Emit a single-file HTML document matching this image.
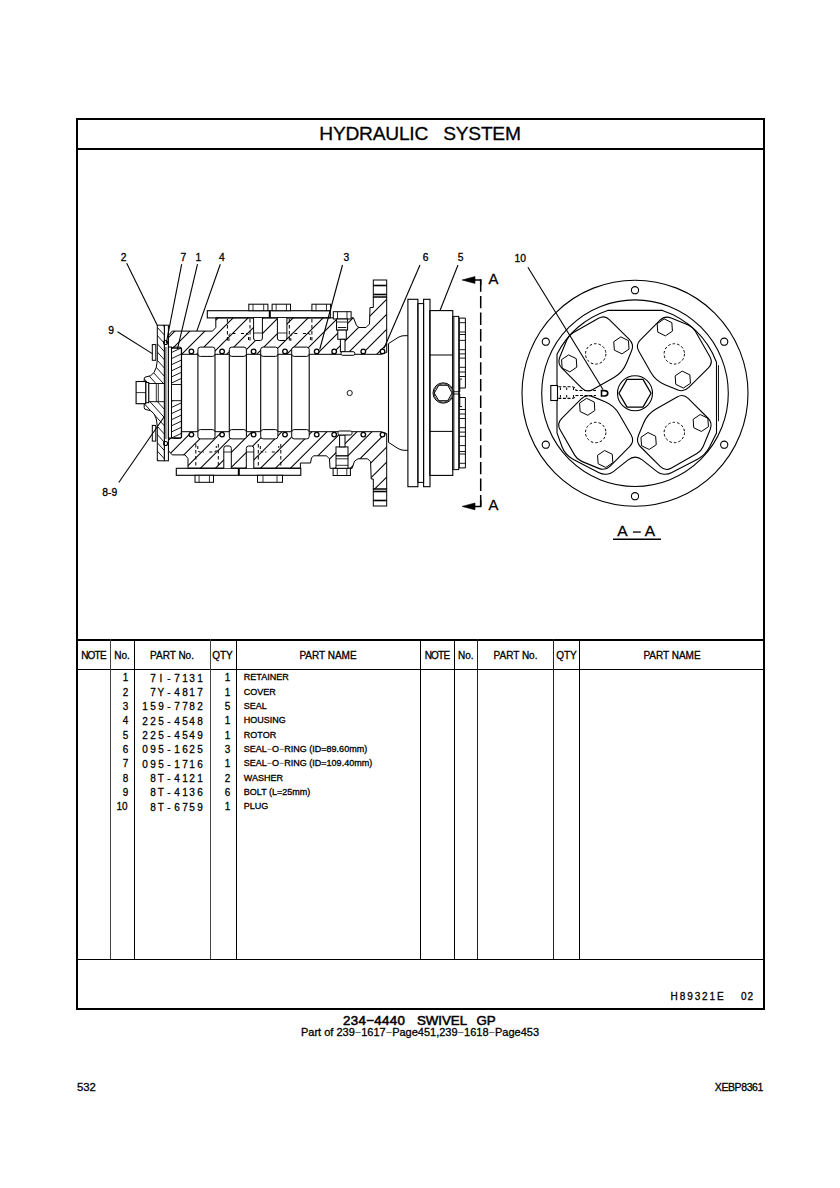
<!DOCTYPE html>
<html><head><meta charset="utf-8"><style>
html,body{margin:0;padding:0;background:#fff;}
body{width:840px;height:1188px;position:relative;overflow:hidden;}
.t{position:absolute;font-family:"Liberation Sans",sans-serif;color:#000;white-space:pre;line-height:1;-webkit-text-stroke:0.3px #000;}
.r{position:absolute;}
.d{color:#444;-webkit-text-stroke:0;}
.c{display:inline-block;width:7.9px;text-align:center;transform:scaleX(0.88);}
svg{position:absolute;left:0;top:0;}
</style></head><body>
<div class="r" style="left:76px;top:118px;width:689px;height:2px;background:#000"></div><div class="r" style="left:76px;top:1008.4px;width:689px;height:1.9px;background:#000"></div><div class="r" style="left:76px;top:118px;width:2px;height:892px;background:#000"></div><div class="r" style="left:763px;top:118px;width:2px;height:892px;background:#000"></div><div class="r" style="left:76px;top:148px;width:689px;height:1.5px;background:#000"></div><div class="r" style="left:76px;top:639px;width:689px;height:1.5px;background:#000"></div><div class="r" style="left:76px;top:668.5px;width:689px;height:1.5px;background:#000"></div><div class="r" style="left:76px;top:958.7px;width:689px;height:1.5px;background:#000"></div><div class="r" style="left:110px;top:639px;width:1.1px;height:320px;background:#444"></div><div class="r" style="left:133.5px;top:639px;width:1.1px;height:320px;background:#000"></div><div class="r" style="left:209.7px;top:639px;width:1.1px;height:320px;background:#444"></div><div class="r" style="left:235.5px;top:639px;width:1.1px;height:320px;background:#000"></div><div class="r" style="left:419.7px;top:639px;width:1.1px;height:320px;background:#000"></div><div class="r" style="left:453.5px;top:639px;width:1.1px;height:320px;background:#000"></div><div class="r" style="left:477px;top:639px;width:1.1px;height:320px;background:#222"></div><div class="r" style="left:553px;top:639px;width:1.1px;height:320px;background:#222"></div><div class="r" style="left:579.3px;top:639px;width:1.1px;height:320px;background:#000"></div><div class="t " style="left:120px;width:600px;text-align:center;top:124.14px;font-size:19.2px;letter-spacing:-0.25px">HYDRAULIC&nbsp;&nbsp;&nbsp;SYSTEM</div><div class="t " style="left:-206.5px;width:600px;text-align:center;top:650.62px;font-size:10px;letter-spacing:-0.8px">NOTE</div><div class="t " style="left:-178px;width:600px;text-align:center;top:650.62px;font-size:10px;">No.</div><div class="t " style="left:-128px;width:600px;text-align:center;top:650.62px;font-size:10px;">PART No.</div><div class="t " style="left:-77.5px;width:600px;text-align:center;top:650.62px;font-size:10px;">QTY</div><div class="t " style="left:28px;width:600px;text-align:center;top:650.62px;font-size:10px;">PART NAME</div><div class="t " style="left:137px;width:600px;text-align:center;top:650.62px;font-size:10px;letter-spacing:-0.8px">NOTE</div><div class="t " style="left:165.7px;width:600px;text-align:center;top:650.62px;font-size:10px;">No.</div><div class="t " style="left:215.5px;width:600px;text-align:center;top:650.62px;font-size:10px;">PART No.</div><div class="t " style="left:266.5px;width:600px;text-align:center;top:650.62px;font-size:10px;">QTY</div><div class="t " style="left:372px;width:600px;text-align:center;top:650.62px;font-size:10px;">PART NAME</div><div class="t " style="right:712.2px;top:672.47px;font-size:11.3px;transform:scaleX(0.88);transform-origin:right">1</div><div class="t " style="right:635.8px;top:672.66px;font-size:11.4px;"><span class="c">7</span><span class="c">I</span><span class="c">-</span><span class="c">7</span><span class="c">1</span><span class="c">3</span><span class="c">1</span></div><div class="t " style="right:609.4px;top:672.47px;font-size:11.3px;transform:scaleX(0.88);transform-origin:right">1</div><div class="t " style="left:243.8px;top:673.44px;font-size:9px;">RETAINER</div><div class="t " style="right:712.2px;top:686.80px;font-size:11.3px;transform:scaleX(0.88);transform-origin:right">2</div><div class="t " style="right:635.8px;top:686.99px;font-size:11.4px;"><span class="c">7</span><span class="c">Y</span><span class="c">-</span><span class="c">4</span><span class="c">8</span><span class="c">1</span><span class="c">7</span></div><div class="t " style="right:609.4px;top:686.80px;font-size:11.3px;transform:scaleX(0.88);transform-origin:right">1</div><div class="t " style="left:243.8px;top:687.77px;font-size:9px;">COVER</div><div class="t " style="right:712.2px;top:701.13px;font-size:11.3px;transform:scaleX(0.88);transform-origin:right">3</div><div class="t " style="right:635.8px;top:701.32px;font-size:11.4px;"><span class="c">1</span><span class="c">5</span><span class="c">9</span><span class="c">-</span><span class="c">7</span><span class="c">7</span><span class="c">8</span><span class="c">2</span></div><div class="t " style="right:609.4px;top:701.13px;font-size:11.3px;transform:scaleX(0.88);transform-origin:right">5</div><div class="t " style="left:243.8px;top:702.10px;font-size:9px;">SEAL</div><div class="t " style="right:712.2px;top:715.46px;font-size:11.3px;transform:scaleX(0.88);transform-origin:right">4</div><div class="t " style="right:635.8px;top:715.65px;font-size:11.4px;"><span class="c">2</span><span class="c">2</span><span class="c">5</span><span class="c">-</span><span class="c">4</span><span class="c">5</span><span class="c">4</span><span class="c">8</span></div><div class="t " style="right:609.4px;top:715.46px;font-size:11.3px;transform:scaleX(0.88);transform-origin:right">1</div><div class="t " style="left:243.8px;top:716.43px;font-size:9px;">HOUSING</div><div class="t " style="right:712.2px;top:729.79px;font-size:11.3px;transform:scaleX(0.88);transform-origin:right">5</div><div class="t " style="right:635.8px;top:729.98px;font-size:11.4px;"><span class="c">2</span><span class="c">2</span><span class="c">5</span><span class="c">-</span><span class="c">4</span><span class="c">5</span><span class="c">4</span><span class="c">9</span></div><div class="t " style="right:609.4px;top:729.79px;font-size:11.3px;transform:scaleX(0.88);transform-origin:right">1</div><div class="t " style="left:243.8px;top:730.76px;font-size:9px;">ROTOR</div><div class="t " style="right:712.2px;top:744.12px;font-size:11.3px;transform:scaleX(0.88);transform-origin:right">6</div><div class="t " style="right:635.8px;top:744.31px;font-size:11.4px;"><span class="c">0</span><span class="c">9</span><span class="c">5</span><span class="c">-</span><span class="c">1</span><span class="c">6</span><span class="c">2</span><span class="c">5</span></div><div class="t " style="right:609.4px;top:744.12px;font-size:11.3px;transform:scaleX(0.88);transform-origin:right">3</div><div class="t " style="left:243.8px;top:745.09px;font-size:9px;">SEAL<span class="d">−</span>O<span class="d">−</span>RING (ID=89.60mm)</div><div class="t " style="right:712.2px;top:758.45px;font-size:11.3px;transform:scaleX(0.88);transform-origin:right">7</div><div class="t " style="right:635.8px;top:758.64px;font-size:11.4px;"><span class="c">0</span><span class="c">9</span><span class="c">5</span><span class="c">-</span><span class="c">1</span><span class="c">7</span><span class="c">1</span><span class="c">6</span></div><div class="t " style="right:609.4px;top:758.45px;font-size:11.3px;transform:scaleX(0.88);transform-origin:right">1</div><div class="t " style="left:243.8px;top:759.42px;font-size:9px;">SEAL<span class="d">−</span>O<span class="d">−</span>RING (ID=109.40mm)</div><div class="t " style="right:712.2px;top:772.78px;font-size:11.3px;transform:scaleX(0.88);transform-origin:right">8</div><div class="t " style="right:635.8px;top:772.97px;font-size:11.4px;"><span class="c">8</span><span class="c">T</span><span class="c">-</span><span class="c">4</span><span class="c">1</span><span class="c">2</span><span class="c">1</span></div><div class="t " style="right:609.4px;top:772.78px;font-size:11.3px;transform:scaleX(0.88);transform-origin:right">2</div><div class="t " style="left:243.8px;top:773.75px;font-size:9px;">WASHER</div><div class="t " style="right:712.2px;top:787.11px;font-size:11.3px;transform:scaleX(0.88);transform-origin:right">9</div><div class="t " style="right:635.8px;top:787.30px;font-size:11.4px;"><span class="c">8</span><span class="c">T</span><span class="c">-</span><span class="c">4</span><span class="c">1</span><span class="c">3</span><span class="c">6</span></div><div class="t " style="right:609.4px;top:787.11px;font-size:11.3px;transform:scaleX(0.88);transform-origin:right">6</div><div class="t " style="left:243.8px;top:788.08px;font-size:9px;">BOLT (L=25mm)</div><div class="t " style="right:712.2px;top:801.44px;font-size:11.3px;transform:scaleX(0.88);transform-origin:right">10</div><div class="t " style="right:635.8px;top:801.63px;font-size:11.4px;"><span class="c">8</span><span class="c">T</span><span class="c">-</span><span class="c">6</span><span class="c">7</span><span class="c">5</span><span class="c">9</span></div><div class="t " style="right:609.4px;top:801.44px;font-size:11.3px;transform:scaleX(0.88);transform-origin:right">1</div><div class="t " style="left:243.8px;top:802.41px;font-size:9px;">PLUG</div><div class="t " style="left:670.6px;top:991.83px;font-size:10px;letter-spacing:1.9px">H89321E</div><div class="t " style="left:741px;top:991.83px;font-size:10px;letter-spacing:1px">02</div><div class="t " style="left:343.0px;top:1013.74px;font-size:13.3px;letter-spacing:0.35px;-webkit-text-stroke:0.55px #000">234−4440</div><div class="t " style="left:416.9px;top:1013.74px;font-size:13.3px;-webkit-text-stroke:0.55px #000">SWIVEL</div><div class="t " style="left:476.4px;top:1013.74px;font-size:13.3px;-webkit-text-stroke:0.55px #000">GP</div><div class="t " style="left:120px;width:600px;text-align:center;top:1026.91px;font-size:11px;">Part of 239<span style="color:#555;-webkit-text-stroke:0">−</span>1617<span style="color:#555;-webkit-text-stroke:0">−</span>Page451,239<span style="color:#555;-webkit-text-stroke:0">−</span>1618<span style="color:#555;-webkit-text-stroke:0">−</span>Page453</div><div class="t " style="left:77px;top:1081.97px;font-size:11.3px;">532</div><div class="t " style="left:714.8px;top:1082.07px;font-size:10.5px;letter-spacing:-0.4px">XEBP8361</div>
<svg width="840" height="1188" viewBox="0 0 840 1188" stroke="#000" fill="none" font-family="Liberation Sans, sans-serif"><defs><clipPath id="hT"><path d="M168.40,335.40 L172.20,331.10 L212.50,331.10 L215.80,327.50 L215.80,317.80 L353.50,317.80 L356.50,325.50 L359.00,327.50 L366.00,327.50 L369.50,324.00 L370.00,307.50 L373.30,307.50 L373.30,297.00 L386.70,297.00 L386.70,352.50 L381.00,354.30 L181.30,354.30 L181.30,348.20 L168.40,348.20 Z"/></clipPath><clipPath id="hB"><path d="M168.40,450.60 L172.20,454.90 L185.00,454.90 L188.00,458.50 L188.00,468.20 L300.40,468.20 L300.40,463.00 L310.50,463.00 L311.50,458.00 L313.50,455.80 L326.50,455.80 L329.50,458.80 L330.00,468.30 L352.10,468.30 L354.50,461.20 L358.00,458.80 L367.60,458.80 L370.60,461.80 L371.20,479.00 L373.30,479.00 L373.30,489.00 L386.70,489.00 L386.70,433.50 L381.00,431.70 L181.30,431.70 L181.30,437.80 L168.40,437.80 Z"/></clipPath><clipPath id="cv"><path d="M157.3,325.2 L164.4,325.2 L164.4,460.8 L157.3,460.8 L157.3,426 Q156.5,410 146,409.5 Q144.2,409.5 144.2,407.5 L144.2,378.9 Q144.2,376.9 146,376.9 Q156.5,376.4 157.3,360.3 Z"/></clipPath><clipPath id="rt"><path d="M173.5,347.1 L179.6,347.1 Q181.6,347.1 181.6,349.1 L181.6,436.5 Q181.6,438.5 179.6,438.5 L173.5,438.5 Q171.5,438.5 171.5,436.5 L171.5,349.1 Q171.5,347.1 173.5,347.1 Z"/></clipPath></defs><g clip-path="url(#hT)" stroke-width="1.05"><line x1="-149.00" y1="520" x2="101.00" y2="270"/><line x1="-134.00" y1="520" x2="116.00" y2="270"/><line x1="-119.00" y1="520" x2="131.00" y2="270"/><line x1="-104.00" y1="520" x2="146.00" y2="270"/><line x1="-89.00" y1="520" x2="161.00" y2="270"/><line x1="-74.00" y1="520" x2="176.00" y2="270"/><line x1="-59.00" y1="520" x2="191.00" y2="270"/><line x1="-44.00" y1="520" x2="206.00" y2="270"/><line x1="-29.00" y1="520" x2="221.00" y2="270"/><line x1="-14.00" y1="520" x2="236.00" y2="270"/><line x1="1.00" y1="520" x2="251.00" y2="270"/><line x1="16.00" y1="520" x2="266.00" y2="270"/><line x1="31.00" y1="520" x2="281.00" y2="270"/><line x1="46.00" y1="520" x2="296.00" y2="270"/><line x1="61.00" y1="520" x2="311.00" y2="270"/><line x1="76.00" y1="520" x2="326.00" y2="270"/><line x1="91.00" y1="520" x2="341.00" y2="270"/><line x1="106.00" y1="520" x2="356.00" y2="270"/><line x1="121.00" y1="520" x2="371.00" y2="270"/><line x1="136.00" y1="520" x2="386.00" y2="270"/><line x1="151.00" y1="520" x2="401.00" y2="270"/><line x1="166.00" y1="520" x2="416.00" y2="270"/><line x1="181.00" y1="520" x2="431.00" y2="270"/><line x1="196.00" y1="520" x2="446.00" y2="270"/><line x1="211.00" y1="520" x2="461.00" y2="270"/><line x1="226.00" y1="520" x2="476.00" y2="270"/><line x1="241.00" y1="520" x2="491.00" y2="270"/><line x1="256.00" y1="520" x2="506.00" y2="270"/><line x1="271.00" y1="520" x2="521.00" y2="270"/><line x1="286.00" y1="520" x2="536.00" y2="270"/><line x1="301.00" y1="520" x2="551.00" y2="270"/><line x1="316.00" y1="520" x2="566.00" y2="270"/><line x1="331.00" y1="520" x2="581.00" y2="270"/><line x1="346.00" y1="520" x2="596.00" y2="270"/><line x1="361.00" y1="520" x2="611.00" y2="270"/><line x1="376.00" y1="520" x2="626.00" y2="270"/><line x1="391.00" y1="520" x2="641.00" y2="270"/><line x1="406.00" y1="520" x2="656.00" y2="270"/><line x1="421.00" y1="520" x2="671.00" y2="270"/><line x1="436.00" y1="520" x2="686.00" y2="270"/><line x1="451.00" y1="520" x2="701.00" y2="270"/><line x1="466.00" y1="520" x2="716.00" y2="270"/><line x1="481.00" y1="520" x2="731.00" y2="270"/><line x1="496.00" y1="520" x2="746.00" y2="270"/><line x1="511.00" y1="520" x2="761.00" y2="270"/><line x1="526.00" y1="520" x2="776.00" y2="270"/><line x1="541.00" y1="520" x2="791.00" y2="270"/><line x1="556.00" y1="520" x2="806.00" y2="270"/><line x1="571.00" y1="520" x2="821.00" y2="270"/><line x1="586.00" y1="520" x2="836.00" y2="270"/><line x1="601.00" y1="520" x2="851.00" y2="270"/><line x1="616.00" y1="520" x2="866.00" y2="270"/><line x1="631.00" y1="520" x2="881.00" y2="270"/><line x1="646.00" y1="520" x2="896.00" y2="270"/><line x1="661.00" y1="520" x2="911.00" y2="270"/><line x1="676.00" y1="520" x2="926.00" y2="270"/><line x1="691.00" y1="520" x2="941.00" y2="270"/><line x1="706.00" y1="520" x2="956.00" y2="270"/><line x1="721.00" y1="520" x2="971.00" y2="270"/></g>
<path d="M168.40,335.40 L172.20,331.10 L212.50,331.10 L215.80,327.50 L215.80,317.80 L353.50,317.80 L356.50,325.50 L359.00,327.50 L366.00,327.50 L369.50,324.00 L370.00,307.50 L373.30,307.50 L373.30,297.00 L386.70,297.00 L386.70,352.50 L381.00,354.30 L181.30,354.30 L181.30,348.20 L168.40,348.20 Z" fill="none" stroke-width="1"/>
<g clip-path="url(#hB)" stroke-width="1.05"><line x1="-151.30" y1="520" x2="98.70" y2="270"/><line x1="-136.30" y1="520" x2="113.70" y2="270"/><line x1="-121.30" y1="520" x2="128.70" y2="270"/><line x1="-106.30" y1="520" x2="143.70" y2="270"/><line x1="-91.30" y1="520" x2="158.70" y2="270"/><line x1="-76.30" y1="520" x2="173.70" y2="270"/><line x1="-61.30" y1="520" x2="188.70" y2="270"/><line x1="-46.30" y1="520" x2="203.70" y2="270"/><line x1="-31.30" y1="520" x2="218.70" y2="270"/><line x1="-16.30" y1="520" x2="233.70" y2="270"/><line x1="-1.30" y1="520" x2="248.70" y2="270"/><line x1="13.70" y1="520" x2="263.70" y2="270"/><line x1="28.70" y1="520" x2="278.70" y2="270"/><line x1="43.70" y1="520" x2="293.70" y2="270"/><line x1="58.70" y1="520" x2="308.70" y2="270"/><line x1="73.70" y1="520" x2="323.70" y2="270"/><line x1="88.70" y1="520" x2="338.70" y2="270"/><line x1="103.70" y1="520" x2="353.70" y2="270"/><line x1="118.70" y1="520" x2="368.70" y2="270"/><line x1="133.70" y1="520" x2="383.70" y2="270"/><line x1="148.70" y1="520" x2="398.70" y2="270"/><line x1="163.70" y1="520" x2="413.70" y2="270"/><line x1="178.70" y1="520" x2="428.70" y2="270"/><line x1="193.70" y1="520" x2="443.70" y2="270"/><line x1="208.70" y1="520" x2="458.70" y2="270"/><line x1="223.70" y1="520" x2="473.70" y2="270"/><line x1="238.70" y1="520" x2="488.70" y2="270"/><line x1="253.70" y1="520" x2="503.70" y2="270"/><line x1="268.70" y1="520" x2="518.70" y2="270"/><line x1="283.70" y1="520" x2="533.70" y2="270"/><line x1="298.70" y1="520" x2="548.70" y2="270"/><line x1="313.70" y1="520" x2="563.70" y2="270"/><line x1="328.70" y1="520" x2="578.70" y2="270"/><line x1="343.70" y1="520" x2="593.70" y2="270"/><line x1="358.70" y1="520" x2="608.70" y2="270"/><line x1="373.70" y1="520" x2="623.70" y2="270"/><line x1="388.70" y1="520" x2="638.70" y2="270"/><line x1="403.70" y1="520" x2="653.70" y2="270"/><line x1="418.70" y1="520" x2="668.70" y2="270"/><line x1="433.70" y1="520" x2="683.70" y2="270"/><line x1="448.70" y1="520" x2="698.70" y2="270"/><line x1="463.70" y1="520" x2="713.70" y2="270"/><line x1="478.70" y1="520" x2="728.70" y2="270"/><line x1="493.70" y1="520" x2="743.70" y2="270"/><line x1="508.70" y1="520" x2="758.70" y2="270"/><line x1="523.70" y1="520" x2="773.70" y2="270"/><line x1="538.70" y1="520" x2="788.70" y2="270"/><line x1="553.70" y1="520" x2="803.70" y2="270"/><line x1="568.70" y1="520" x2="818.70" y2="270"/><line x1="583.70" y1="520" x2="833.70" y2="270"/><line x1="598.70" y1="520" x2="848.70" y2="270"/><line x1="613.70" y1="520" x2="863.70" y2="270"/><line x1="628.70" y1="520" x2="878.70" y2="270"/><line x1="643.70" y1="520" x2="893.70" y2="270"/><line x1="658.70" y1="520" x2="908.70" y2="270"/><line x1="673.70" y1="520" x2="923.70" y2="270"/><line x1="688.70" y1="520" x2="938.70" y2="270"/><line x1="703.70" y1="520" x2="953.70" y2="270"/><line x1="718.70" y1="520" x2="968.70" y2="270"/></g>
<path d="M168.40,450.60 L172.20,454.90 L185.00,454.90 L188.00,458.50 L188.00,468.20 L300.40,468.20 L300.40,463.00 L310.50,463.00 L311.50,458.00 L313.50,455.80 L326.50,455.80 L329.50,458.80 L330.00,468.30 L352.10,468.30 L354.50,461.20 L358.00,458.80 L367.60,458.80 L370.60,461.80 L371.20,479.00 L373.30,479.00 L373.30,489.00 L386.70,489.00 L386.70,433.50 L381.00,431.70 L181.30,431.70 L181.30,437.80 L168.40,437.80 Z" fill="none" stroke-width="1"/>
<rect x="373.30" y="280.00" width="13.40" height="17.00" rx="0" stroke-width="1" fill="none" />
<line x1="373.30" y1="285.50" x2="386.70" y2="285.50" stroke-width="1.6" />
<line x1="373.30" y1="294.50" x2="386.70" y2="294.50" stroke-width="1.6" />
<rect x="373.30" y="489.00" width="13.40" height="17.00" rx="0" stroke-width="1" fill="none" />
<line x1="373.30" y1="500.50" x2="386.70" y2="500.50" stroke-width="1.6" />
<line x1="373.30" y1="491.50" x2="386.70" y2="491.50" stroke-width="1.6" />
<rect x="207.30" y="310.70" width="123.00" height="7.20" rx="0" stroke-width="1.1" fill="none" />
<line x1="269.80" y1="310.70" x2="269.80" y2="317.90" stroke-width="2" />
<rect x="248.80" y="304.20" width="19.10" height="6.50" rx="0" stroke-width="1" fill="#fff" />
<line x1="253.00" y1="304.20" x2="253.00" y2="310.70" stroke-width="0.8" />
<line x1="263.70" y1="304.20" x2="263.70" y2="310.70" stroke-width="0.8" />
<rect x="272.10" y="304.20" width="18.40" height="6.50" rx="0" stroke-width="1" fill="#fff" />
<line x1="276.15" y1="304.20" x2="276.15" y2="310.70" stroke-width="0.8" />
<line x1="286.45" y1="304.20" x2="286.45" y2="310.70" stroke-width="0.8" />
<rect x="311.90" y="304.20" width="18.70" height="6.50" rx="0" stroke-width="1" fill="#fff" />
<line x1="316.01" y1="304.20" x2="316.01" y2="310.70" stroke-width="0.8" />
<line x1="326.49" y1="304.20" x2="326.49" y2="310.70" stroke-width="0.8" />
<path d="M253.6,317.9 L253.6,338 Q253.6,340.5 255.6,340.5 L260.4,340.5 Q262.4,340.5 262.4,338 L262.4,317.9" stroke-width="1" fill="#fff" />
<line x1="253.60" y1="333.00" x2="262.40" y2="333.00" stroke-width="0.8" />
<path d="M277.4,317.9 L277.4,338 Q277.4,340.5 279.4,340.5 L284.9,340.5 Q286.9,340.5 286.9,338 L286.9,317.9" stroke-width="1" fill="#fff" />
<line x1="277.40" y1="333.00" x2="286.90" y2="333.00" stroke-width="0.8" />
<rect x="176.30" y="468.30" width="124.50" height="7.00" rx="0" stroke-width="1.1" fill="none" />
<line x1="238.80" y1="468.30" x2="238.80" y2="475.30" stroke-width="2" />
<rect x="195.00" y="475.30" width="18.50" height="7.00" rx="0" stroke-width="1" fill="#fff" />
<line x1="199.07" y1="475.30" x2="199.07" y2="482.30" stroke-width="0.8" />
<line x1="209.43" y1="475.30" x2="209.43" y2="482.30" stroke-width="0.8" />
<rect x="257.50" y="475.30" width="25.00" height="7.00" rx="0" stroke-width="1" fill="#fff" />
<line x1="263.00" y1="475.30" x2="263.00" y2="482.30" stroke-width="0.8" />
<line x1="277.00" y1="475.30" x2="277.00" y2="482.30" stroke-width="0.8" />
<path d="M223.8,468.3 L223.8,448.5 Q223.8,446 225.8,446 L229.3,446 Q231.3,446 231.3,448.5 L231.3,468.3" stroke-width="1" fill="#fff" />
<line x1="223.80" y1="452.00" x2="231.30" y2="452.00" stroke-width="0.8" />
<path d="M246.3,468.3 L246.3,448.5 Q246.3,446 248.3,446 L251.8,446 Q253.8,446 253.8,448.5 L253.8,468.3" stroke-width="1" fill="#fff" />
<line x1="246.30" y1="452.00" x2="253.80" y2="452.00" stroke-width="0.8" />
<line x1="227.40" y1="319.00" x2="227.40" y2="343.00" stroke-width="1" stroke-dasharray="3.5,2.5"/>
<line x1="250.00" y1="319.00" x2="250.00" y2="343.00" stroke-width="1" stroke-dasharray="3.5,2.5"/>
<path d="M228.9,341 L228.9,336 Q228.9,333.5 231.4,333.5 L236.4,333.5" stroke-width="1" fill="none" stroke-dasharray="3,2"/>
<path d="M241,333.5 L246,333.5 Q248.5,333.5 248.5,336 L248.5,341" stroke-width="1" fill="none" stroke-dasharray="3,2"/>
<line x1="289.30" y1="319.00" x2="289.30" y2="343.00" stroke-width="1" stroke-dasharray="3.5,2.5"/>
<line x1="311.90" y1="319.00" x2="311.90" y2="343.00" stroke-width="1" stroke-dasharray="3.5,2.5"/>
<path d="M290.8,341 L290.8,336 Q290.8,333.5 293.3,333.5 L298.3,333.5" stroke-width="1" fill="none" stroke-dasharray="3,2"/>
<path d="M302.9,333.5 L307.9,333.5 Q310.4,333.5 310.4,336 L310.4,341" stroke-width="1" fill="none" stroke-dasharray="3,2"/>
<line x1="195.80" y1="444.00" x2="195.80" y2="468.00" stroke-width="1" stroke-dasharray="3.5,2.5"/>
<line x1="218.30" y1="444.00" x2="218.30" y2="468.00" stroke-width="1" stroke-dasharray="3.5,2.5"/>
<path d="M197.8,446 L197.8,450 Q197.8,452 200.3,452 L203.8,452" stroke-width="1" fill="none" stroke-dasharray="3,2"/>
<path d="M209.3,452 L213.8,452 Q216.3,452 216.3,449.5 L216.3,446" stroke-width="1" fill="none" stroke-dasharray="3,2"/>
<line x1="258.30" y1="444.00" x2="258.30" y2="468.00" stroke-width="1" stroke-dasharray="3.5,2.5"/>
<line x1="280.80" y1="444.00" x2="280.80" y2="468.00" stroke-width="1" stroke-dasharray="3.5,2.5"/>
<path d="M260.3,446 L260.3,450 Q260.3,452 262.8,452 L266.3,452" stroke-width="1" fill="none" stroke-dasharray="3,2"/>
<path d="M271.8,452 L276.3,452 Q278.8,452 278.8,449.5 L278.8,446" stroke-width="1" fill="none" stroke-dasharray="3,2"/>
<rect x="333.30" y="311.70" width="17.80" height="7.30" rx="0" stroke-width="1" fill="#fff" />
<line x1="337.50" y1="311.70" x2="337.50" y2="319.00" stroke-width="0.8" />
<line x1="347.00" y1="311.70" x2="347.00" y2="319.00" stroke-width="0.8" />
<rect x="336.50" y="319.00" width="11.10" height="11.10" rx="0" stroke-width="1" fill="#fff" />
<line x1="336.50" y1="322.00" x2="347.60" y2="322.00" stroke-width="1.2" stroke="#555"/>
<rect x="337.80" y="330.10" width="8.50" height="9.20" rx="0" stroke-width="1" fill="#fff" />
<line x1="337.80" y1="327.50" x2="346.30" y2="327.50" stroke-width="0.9" />
<rect x="340.40" y="339.30" width="4.60" height="12.40" rx="0" stroke-width="1" fill="#fff" />
<rect x="341.00" y="351.70" width="13.80" height="3.60" rx="1.5" stroke-width="1" fill="#fff" />
<rect x="333.10" y="468.30" width="17.30" height="7.20" rx="0" stroke-width="1" fill="#fff" />
<line x1="337.30" y1="468.30" x2="337.30" y2="475.50" stroke-width="0.8" />
<line x1="346.80" y1="468.30" x2="346.80" y2="475.50" stroke-width="0.8" />
<rect x="336.00" y="446.90" width="12.00" height="21.40" rx="0" stroke-width="1" fill="#fff" />
<line x1="336.00" y1="455.80" x2="348.00" y2="455.80" stroke-width="1.3" />
<line x1="336.00" y1="458.80" x2="348.00" y2="458.80" stroke-width="0.8" />
<line x1="336.00" y1="465.30" x2="348.00" y2="465.30" stroke-width="0.8" />
<rect x="339.60" y="435.00" width="5.40" height="11.90" rx="0" stroke-width="1" fill="#fff" />
<rect x="338.00" y="431.00" width="14.00" height="4.00" rx="1.5" stroke-width="1" fill="#fff" />
<g clip-path="url(#cv)" stroke-width="0.9"><line x1="-127.27" y1="270" x2="100.00" y2="520"/><line x1="-119.77" y1="270" x2="107.50" y2="520"/><line x1="-112.27" y1="270" x2="115.00" y2="520"/><line x1="-104.77" y1="270" x2="122.50" y2="520"/><line x1="-97.27" y1="270" x2="130.00" y2="520"/><line x1="-89.77" y1="270" x2="137.50" y2="520"/><line x1="-82.27" y1="270" x2="145.00" y2="520"/><line x1="-74.77" y1="270" x2="152.50" y2="520"/><line x1="-67.27" y1="270" x2="160.00" y2="520"/><line x1="-59.77" y1="270" x2="167.50" y2="520"/><line x1="-52.27" y1="270" x2="175.00" y2="520"/><line x1="-44.77" y1="270" x2="182.50" y2="520"/><line x1="-37.27" y1="270" x2="190.00" y2="520"/><line x1="-29.77" y1="270" x2="197.50" y2="520"/><line x1="-22.27" y1="270" x2="205.00" y2="520"/><line x1="-14.77" y1="270" x2="212.50" y2="520"/><line x1="-7.27" y1="270" x2="220.00" y2="520"/><line x1="0.23" y1="270" x2="227.50" y2="520"/><line x1="7.73" y1="270" x2="235.00" y2="520"/><line x1="15.23" y1="270" x2="242.50" y2="520"/><line x1="22.73" y1="270" x2="250.00" y2="520"/><line x1="30.23" y1="270" x2="257.50" y2="520"/><line x1="37.73" y1="270" x2="265.00" y2="520"/><line x1="45.23" y1="270" x2="272.50" y2="520"/><line x1="52.73" y1="270" x2="280.00" y2="520"/><line x1="60.23" y1="270" x2="287.50" y2="520"/><line x1="67.73" y1="270" x2="295.00" y2="520"/><line x1="75.23" y1="270" x2="302.50" y2="520"/><line x1="82.73" y1="270" x2="310.00" y2="520"/><line x1="90.23" y1="270" x2="317.50" y2="520"/><line x1="97.73" y1="270" x2="325.00" y2="520"/><line x1="105.23" y1="270" x2="332.50" y2="520"/><line x1="112.73" y1="270" x2="340.00" y2="520"/><line x1="120.23" y1="270" x2="347.50" y2="520"/><line x1="127.73" y1="270" x2="355.00" y2="520"/><line x1="135.23" y1="270" x2="362.50" y2="520"/><line x1="142.73" y1="270" x2="370.00" y2="520"/><line x1="150.23" y1="270" x2="377.50" y2="520"/><line x1="157.73" y1="270" x2="385.00" y2="520"/><line x1="165.23" y1="270" x2="392.50" y2="520"/><line x1="172.73" y1="270" x2="400.00" y2="520"/><line x1="180.23" y1="270" x2="407.50" y2="520"/><line x1="187.73" y1="270" x2="415.00" y2="520"/><line x1="195.23" y1="270" x2="422.50" y2="520"/><line x1="202.73" y1="270" x2="430.00" y2="520"/><line x1="210.23" y1="270" x2="437.50" y2="520"/><line x1="217.73" y1="270" x2="445.00" y2="520"/><line x1="225.23" y1="270" x2="452.50" y2="520"/><line x1="232.73" y1="270" x2="460.00" y2="520"/><line x1="240.23" y1="270" x2="467.50" y2="520"/><line x1="247.73" y1="270" x2="475.00" y2="520"/><line x1="255.23" y1="270" x2="482.50" y2="520"/><line x1="262.73" y1="270" x2="490.00" y2="520"/><line x1="270.23" y1="270" x2="497.50" y2="520"/><line x1="277.73" y1="270" x2="505.00" y2="520"/><line x1="285.23" y1="270" x2="512.50" y2="520"/><line x1="292.73" y1="270" x2="520.00" y2="520"/><line x1="300.23" y1="270" x2="527.50" y2="520"/><line x1="307.73" y1="270" x2="535.00" y2="520"/><line x1="315.23" y1="270" x2="542.50" y2="520"/><line x1="322.73" y1="270" x2="550.00" y2="520"/><line x1="330.23" y1="270" x2="557.50" y2="520"/><line x1="337.73" y1="270" x2="565.00" y2="520"/><line x1="345.23" y1="270" x2="572.50" y2="520"/><line x1="352.73" y1="270" x2="580.00" y2="520"/><line x1="360.23" y1="270" x2="587.50" y2="520"/><line x1="367.73" y1="270" x2="595.00" y2="520"/><line x1="375.23" y1="270" x2="602.50" y2="520"/><line x1="382.73" y1="270" x2="610.00" y2="520"/><line x1="390.23" y1="270" x2="617.50" y2="520"/><line x1="397.73" y1="270" x2="625.00" y2="520"/><line x1="405.23" y1="270" x2="632.50" y2="520"/><line x1="412.73" y1="270" x2="640.00" y2="520"/><line x1="420.23" y1="270" x2="647.50" y2="520"/><line x1="427.73" y1="270" x2="655.00" y2="520"/><line x1="435.23" y1="270" x2="662.50" y2="520"/><line x1="442.73" y1="270" x2="670.00" y2="520"/><line x1="450.23" y1="270" x2="677.50" y2="520"/><line x1="457.73" y1="270" x2="685.00" y2="520"/><line x1="465.23" y1="270" x2="692.50" y2="520"/><line x1="472.73" y1="270" x2="700.00" y2="520"/><line x1="480.23" y1="270" x2="707.50" y2="520"/><line x1="487.73" y1="270" x2="715.00" y2="520"/><line x1="495.23" y1="270" x2="722.50" y2="520"/><line x1="502.73" y1="270" x2="730.00" y2="520"/><line x1="510.23" y1="270" x2="737.50" y2="520"/><line x1="517.73" y1="270" x2="745.00" y2="520"/><line x1="525.23" y1="270" x2="752.50" y2="520"/><line x1="532.73" y1="270" x2="760.00" y2="520"/><line x1="540.23" y1="270" x2="767.50" y2="520"/><line x1="547.73" y1="270" x2="775.00" y2="520"/><line x1="555.23" y1="270" x2="782.50" y2="520"/><line x1="562.73" y1="270" x2="790.00" y2="520"/><line x1="570.23" y1="270" x2="797.50" y2="520"/><line x1="577.73" y1="270" x2="805.00" y2="520"/><line x1="585.23" y1="270" x2="812.50" y2="520"/><line x1="592.73" y1="270" x2="820.00" y2="520"/><line x1="600.23" y1="270" x2="827.50" y2="520"/><line x1="607.73" y1="270" x2="835.00" y2="520"/><line x1="615.23" y1="270" x2="842.50" y2="520"/><line x1="622.73" y1="270" x2="850.00" y2="520"/><line x1="630.23" y1="270" x2="857.50" y2="520"/><line x1="637.73" y1="270" x2="865.00" y2="520"/><line x1="645.23" y1="270" x2="872.50" y2="520"/><line x1="652.73" y1="270" x2="880.00" y2="520"/><line x1="660.23" y1="270" x2="887.50" y2="520"/><line x1="667.73" y1="270" x2="895.00" y2="520"/><line x1="675.23" y1="270" x2="902.50" y2="520"/><line x1="682.73" y1="270" x2="910.00" y2="520"/><line x1="690.23" y1="270" x2="917.50" y2="520"/><line x1="697.73" y1="270" x2="925.00" y2="520"/><line x1="705.23" y1="270" x2="932.50" y2="520"/></g>
<path d="M157.3,325.2 L164.4,325.2 L164.4,460.8 L157.3,460.8 L157.3,426 Q156.5,410 146,409.5 Q144.2,409.5 144.2,407.5 L144.2,378.9 Q144.2,376.9 146,376.9 Q156.5,376.4 157.3,360.3 Z" fill="none" stroke-width="1"/>
<rect x="148.70" y="383.50" width="15.70" height="18.20" rx="0" stroke-width="0.9" fill="#fff" />
<line x1="156.30" y1="383.50" x2="156.30" y2="401.70" stroke-width="0.8" />
<line x1="158.30" y1="383.50" x2="158.30" y2="401.70" stroke-width="0.8" />
<rect x="164.40" y="325.20" width="4.00" height="135.60" rx="0" stroke-width="1" fill="#fff" />
<rect x="168.40" y="347.00" width="3.10" height="91.00" rx="0" stroke-width="1" fill="#fff" />
<line x1="165.90" y1="347.00" x2="165.90" y2="439.00" stroke-width="0.8" />
<rect x="152.30" y="344.60" width="3.50" height="15.70" rx="0" stroke-width="1" fill="#fff" />
<rect x="152.30" y="425.40" width="3.50" height="15.70" rx="0" stroke-width="1" fill="#fff" />
<rect x="145.70" y="382.50" width="3.00" height="20.20" rx="0" stroke-width="1" fill="#fff" />
<rect x="136.10" y="381.50" width="9.60" height="22.20" rx="0" stroke-width="1.1" fill="#fff" />
<line x1="136.10" y1="392.60" x2="145.70" y2="392.60" stroke-width="0.8" />
<g clip-path="url(#rt)" stroke-width="0.9"><line x1="-431.91" y1="520" x2="100.00" y2="270"/><line x1="-418.91" y1="520" x2="113.00" y2="270"/><line x1="-405.91" y1="520" x2="126.00" y2="270"/><line x1="-392.91" y1="520" x2="139.00" y2="270"/><line x1="-379.91" y1="520" x2="152.00" y2="270"/><line x1="-366.91" y1="520" x2="165.00" y2="270"/><line x1="-353.91" y1="520" x2="178.00" y2="270"/><line x1="-340.91" y1="520" x2="191.00" y2="270"/><line x1="-327.91" y1="520" x2="204.00" y2="270"/><line x1="-314.91" y1="520" x2="217.00" y2="270"/><line x1="-301.91" y1="520" x2="230.00" y2="270"/><line x1="-288.91" y1="520" x2="243.00" y2="270"/><line x1="-275.91" y1="520" x2="256.00" y2="270"/><line x1="-262.91" y1="520" x2="269.00" y2="270"/><line x1="-249.91" y1="520" x2="282.00" y2="270"/><line x1="-236.91" y1="520" x2="295.00" y2="270"/><line x1="-223.91" y1="520" x2="308.00" y2="270"/><line x1="-210.91" y1="520" x2="321.00" y2="270"/><line x1="-197.91" y1="520" x2="334.00" y2="270"/><line x1="-184.91" y1="520" x2="347.00" y2="270"/><line x1="-171.91" y1="520" x2="360.00" y2="270"/><line x1="-158.91" y1="520" x2="373.00" y2="270"/><line x1="-145.91" y1="520" x2="386.00" y2="270"/><line x1="-132.91" y1="520" x2="399.00" y2="270"/><line x1="-119.91" y1="520" x2="412.00" y2="270"/><line x1="-106.91" y1="520" x2="425.00" y2="270"/><line x1="-93.91" y1="520" x2="438.00" y2="270"/><line x1="-80.91" y1="520" x2="451.00" y2="270"/><line x1="-67.91" y1="520" x2="464.00" y2="270"/><line x1="-54.91" y1="520" x2="477.00" y2="270"/><line x1="-41.91" y1="520" x2="490.00" y2="270"/><line x1="-28.91" y1="520" x2="503.00" y2="270"/><line x1="-15.91" y1="520" x2="516.00" y2="270"/><line x1="-2.91" y1="520" x2="529.00" y2="270"/><line x1="10.09" y1="520" x2="542.00" y2="270"/><line x1="23.09" y1="520" x2="555.00" y2="270"/><line x1="36.09" y1="520" x2="568.00" y2="270"/><line x1="49.09" y1="520" x2="581.00" y2="270"/><line x1="62.09" y1="520" x2="594.00" y2="270"/><line x1="75.09" y1="520" x2="607.00" y2="270"/><line x1="88.09" y1="520" x2="620.00" y2="270"/><line x1="101.09" y1="520" x2="633.00" y2="270"/><line x1="114.09" y1="520" x2="646.00" y2="270"/><line x1="127.09" y1="520" x2="659.00" y2="270"/><line x1="140.09" y1="520" x2="672.00" y2="270"/><line x1="153.09" y1="520" x2="685.00" y2="270"/><line x1="166.09" y1="520" x2="698.00" y2="270"/><line x1="179.09" y1="520" x2="711.00" y2="270"/><line x1="192.09" y1="520" x2="724.00" y2="270"/><line x1="205.09" y1="520" x2="737.00" y2="270"/><line x1="218.09" y1="520" x2="750.00" y2="270"/><line x1="231.09" y1="520" x2="763.00" y2="270"/><line x1="244.09" y1="520" x2="776.00" y2="270"/><line x1="257.09" y1="520" x2="789.00" y2="270"/><line x1="270.09" y1="520" x2="802.00" y2="270"/><line x1="283.09" y1="520" x2="815.00" y2="270"/><line x1="296.09" y1="520" x2="828.00" y2="270"/><line x1="309.09" y1="520" x2="841.00" y2="270"/><line x1="322.09" y1="520" x2="854.00" y2="270"/><line x1="335.09" y1="520" x2="867.00" y2="270"/><line x1="348.09" y1="520" x2="880.00" y2="270"/><line x1="361.09" y1="520" x2="893.00" y2="270"/><line x1="374.09" y1="520" x2="906.00" y2="270"/><line x1="387.09" y1="520" x2="919.00" y2="270"/><line x1="400.09" y1="520" x2="932.00" y2="270"/><line x1="413.09" y1="520" x2="945.00" y2="270"/><line x1="426.09" y1="520" x2="958.00" y2="270"/><line x1="439.09" y1="520" x2="971.00" y2="270"/><line x1="452.09" y1="520" x2="984.00" y2="270"/><line x1="465.09" y1="520" x2="997.00" y2="270"/><line x1="478.09" y1="520" x2="1010.00" y2="270"/><line x1="491.09" y1="520" x2="1023.00" y2="270"/><line x1="504.09" y1="520" x2="1036.00" y2="270"/><line x1="517.09" y1="520" x2="1049.00" y2="270"/><line x1="530.09" y1="520" x2="1062.00" y2="270"/><line x1="543.09" y1="520" x2="1075.00" y2="270"/><line x1="556.09" y1="520" x2="1088.00" y2="270"/><line x1="569.09" y1="520" x2="1101.00" y2="270"/><line x1="582.09" y1="520" x2="1114.00" y2="270"/><line x1="595.09" y1="520" x2="1127.00" y2="270"/><line x1="608.09" y1="520" x2="1140.00" y2="270"/><line x1="621.09" y1="520" x2="1153.00" y2="270"/><line x1="634.09" y1="520" x2="1166.00" y2="270"/><line x1="647.09" y1="520" x2="1179.00" y2="270"/><line x1="660.09" y1="520" x2="1192.00" y2="270"/><line x1="673.09" y1="520" x2="1205.00" y2="270"/><line x1="686.09" y1="520" x2="1218.00" y2="270"/><line x1="699.09" y1="520" x2="1231.00" y2="270"/><line x1="712.09" y1="520" x2="1244.00" y2="270"/><line x1="725.09" y1="520" x2="1257.00" y2="270"/><line x1="738.09" y1="520" x2="1270.00" y2="270"/><line x1="751.09" y1="520" x2="1283.00" y2="270"/><line x1="764.09" y1="520" x2="1296.00" y2="270"/><line x1="777.09" y1="520" x2="1309.00" y2="270"/><line x1="790.09" y1="520" x2="1322.00" y2="270"/><line x1="803.09" y1="520" x2="1335.00" y2="270"/><line x1="816.09" y1="520" x2="1348.00" y2="270"/><line x1="829.09" y1="520" x2="1361.00" y2="270"/><line x1="842.09" y1="520" x2="1374.00" y2="270"/><line x1="855.09" y1="520" x2="1387.00" y2="270"/><line x1="868.09" y1="520" x2="1400.00" y2="270"/><line x1="881.09" y1="520" x2="1413.00" y2="270"/><line x1="894.09" y1="520" x2="1426.00" y2="270"/><line x1="907.09" y1="520" x2="1439.00" y2="270"/><line x1="920.09" y1="520" x2="1452.00" y2="270"/><line x1="933.09" y1="520" x2="1465.00" y2="270"/><line x1="946.09" y1="520" x2="1478.00" y2="270"/><line x1="959.09" y1="520" x2="1491.00" y2="270"/><line x1="972.09" y1="520" x2="1504.00" y2="270"/><line x1="985.09" y1="520" x2="1517.00" y2="270"/><line x1="998.09" y1="520" x2="1530.00" y2="270"/><line x1="1011.09" y1="520" x2="1543.00" y2="270"/></g>
<path d="M173.5,347.1 L179.6,347.1 Q181.6,347.1 181.6,349.1 L181.6,436.5 Q181.6,438.5 179.6,438.5 L173.5,438.5 Q171.5,438.5 171.5,436.5 L171.5,349.1 Q171.5,347.1 173.5,347.1 Z" fill="none" stroke-width="1"/>
<rect x="171.50" y="384.50" width="10.10" height="16.20" rx="0" stroke-width="0.9" fill="#fff" />
<circle cx="165.60" cy="342.50" r="2.00" stroke-width="1.1" fill="none" />
<circle cx="165.60" cy="443.50" r="2.00" stroke-width="1.1" fill="none" />
<line x1="181.40" y1="354.30" x2="181.40" y2="431.70" stroke-width="1.1" />
<line x1="197.90" y1="354.30" x2="197.90" y2="431.70" stroke-width="1.1" />
<line x1="215.00" y1="354.30" x2="215.00" y2="431.70" stroke-width="1.1" />
<line x1="229.30" y1="354.30" x2="229.30" y2="431.70" stroke-width="1.1" />
<line x1="246.40" y1="354.30" x2="246.40" y2="431.70" stroke-width="1.1" />
<line x1="260.70" y1="354.30" x2="260.70" y2="431.70" stroke-width="1.1" />
<line x1="277.90" y1="354.30" x2="277.90" y2="431.70" stroke-width="1.1" />
<line x1="291.70" y1="354.30" x2="291.70" y2="431.70" stroke-width="1.1" />
<line x1="309.20" y1="354.30" x2="309.20" y2="431.70" stroke-width="1.1" />
<rect x="197.90" y="347.10" width="17.10" height="9.30" rx="2.5" stroke-width="1" fill="#fff" />
<rect x="197.90" y="429.60" width="17.10" height="9.30" rx="2.5" stroke-width="1" fill="#fff" />
<rect x="229.30" y="347.10" width="17.10" height="9.30" rx="2.5" stroke-width="1" fill="#fff" />
<rect x="229.30" y="429.60" width="17.10" height="9.30" rx="2.5" stroke-width="1" fill="#fff" />
<rect x="260.70" y="347.10" width="17.20" height="9.30" rx="2.5" stroke-width="1" fill="#fff" />
<rect x="260.70" y="429.60" width="17.20" height="9.30" rx="2.5" stroke-width="1" fill="#fff" />
<rect x="291.70" y="347.10" width="17.50" height="9.30" rx="2.5" stroke-width="1" fill="#fff" />
<rect x="291.70" y="429.60" width="17.50" height="9.30" rx="2.5" stroke-width="1" fill="#fff" />
<line x1="388.50" y1="343.60" x2="388.50" y2="442.40" stroke-width="1.1" />
<circle cx="349.70" cy="393.00" r="2.60" stroke-width="0.9" fill="none" />
<circle cx="191.40" cy="351.40" r="2.3" stroke-width="1.3" fill="#fff"/>
<circle cx="191.40" cy="434.60" r="2.3" stroke-width="1.3" fill="#fff"/>
<circle cx="222.10" cy="351.40" r="2.3" stroke-width="1.3" fill="#fff"/>
<circle cx="222.10" cy="434.60" r="2.3" stroke-width="1.3" fill="#fff"/>
<circle cx="253.60" cy="351.40" r="2.3" stroke-width="1.3" fill="#fff"/>
<circle cx="253.60" cy="434.60" r="2.3" stroke-width="1.3" fill="#fff"/>
<circle cx="285.00" cy="351.40" r="2.3" stroke-width="1.3" fill="#fff"/>
<circle cx="285.00" cy="434.60" r="2.3" stroke-width="1.3" fill="#fff"/>
<circle cx="316.70" cy="351.40" r="2.3" stroke-width="1.3" fill="#fff"/>
<circle cx="316.70" cy="434.60" r="2.3" stroke-width="1.3" fill="#fff"/>
<circle cx="334.20" cy="351.40" r="2.3" stroke-width="1.3" fill="#fff"/>
<circle cx="334.20" cy="434.60" r="2.3" stroke-width="1.3" fill="#fff"/>
<circle cx="363.30" cy="351.40" r="2.3" stroke-width="1.3" fill="#fff"/>
<circle cx="363.30" cy="434.60" r="2.3" stroke-width="1.3" fill="#fff"/>
<circle cx="382.50" cy="351.40" r="2.3" stroke-width="1.3" fill="#fff"/>
<circle cx="382.50" cy="434.60" r="2.3" stroke-width="1.3" fill="#fff"/>
<path d="M388.5,343.6 L398,337.5 Q401,335.7 404,335.7 L407.9,335.7" stroke-width="1" fill="none" />
<path d="M388.5,442.4 L398,448.5 Q401,450.3 404,450.3 L407.9,450.3" stroke-width="1" fill="none" />
<rect x="407.90" y="299.30" width="10.00" height="187.40" rx="0" stroke-width="1.1" fill="none" />
<rect x="417.90" y="303.60" width="5.70" height="178.80" rx="0" stroke-width="1" fill="none" />
<rect x="423.60" y="299.30" width="6.40" height="187.40" rx="0" stroke-width="1.1" fill="none" />
<rect x="429.80" y="310.60" width="23.00" height="164.80" rx="0" stroke-width="1.1" fill="none" />
<line x1="429.80" y1="355.00" x2="452.80" y2="355.00" stroke-width="1" />
<line x1="429.80" y1="431.40" x2="452.80" y2="431.40" stroke-width="1" />
<rect x="452.80" y="316.40" width="5.90" height="153.20" rx="0" stroke-width="1" fill="none" />
<line x1="453.80" y1="316.40" x2="453.80" y2="469.60" stroke-width="1.3" stroke="#444"/>
<path d="M458.7,318.1 L465.4,318.1 L465.4,388 L459.5,388 M459.5,397.5 L465.4,397.5 L465.4,467.9 L458.7,467.9" stroke-width="1" fill="none" />
<line x1="459.50" y1="322.70" x2="465.40" y2="322.70" stroke-width="0.9" />
<line x1="459.50" y1="332.00" x2="465.40" y2="332.00" stroke-width="0.9" />
<line x1="459.50" y1="334.50" x2="465.40" y2="334.50" stroke-width="0.9" />
<line x1="459.50" y1="340.40" x2="465.40" y2="340.40" stroke-width="0.9" />
<line x1="459.50" y1="349.70" x2="465.40" y2="349.70" stroke-width="0.9" />
<line x1="459.50" y1="353.90" x2="465.40" y2="353.90" stroke-width="0.9" />
<line x1="459.50" y1="358.10" x2="465.40" y2="358.10" stroke-width="0.9" />
<line x1="459.50" y1="367.30" x2="465.40" y2="367.30" stroke-width="0.9" />
<line x1="459.50" y1="372.00" x2="465.40" y2="372.00" stroke-width="0.9" />
<line x1="459.50" y1="376.50" x2="465.40" y2="376.50" stroke-width="0.9" />
<line x1="459.50" y1="409.50" x2="465.40" y2="409.50" stroke-width="0.9" />
<line x1="459.50" y1="414.00" x2="465.40" y2="414.00" stroke-width="0.9" />
<line x1="459.50" y1="418.50" x2="465.40" y2="418.50" stroke-width="0.9" />
<line x1="459.50" y1="427.70" x2="465.40" y2="427.70" stroke-width="0.9" />
<line x1="459.50" y1="432.10" x2="465.40" y2="432.10" stroke-width="0.9" />
<line x1="459.50" y1="436.30" x2="465.40" y2="436.30" stroke-width="0.9" />
<line x1="459.50" y1="445.60" x2="465.40" y2="445.60" stroke-width="0.9" />
<line x1="459.50" y1="451.50" x2="465.40" y2="451.50" stroke-width="0.9" />
<line x1="459.50" y1="454.00" x2="465.40" y2="454.00" stroke-width="0.9" />
<line x1="459.50" y1="463.30" x2="465.40" y2="463.30" stroke-width="0.9" />
<line x1="459.50" y1="318.10" x2="459.50" y2="467.90" stroke-width="0.8" />
<circle cx="443.20" cy="393.00" r="10.20" stroke-width="1.0" fill="#fff" />
<circle cx="443.20" cy="393.00" r="9.20" stroke-width="0.8" fill="none" />
<path d="M452.10,393.00 L447.65,400.71 L438.75,400.71 L434.30,393.00 L438.75,385.29 L447.65,385.29 Z" stroke-width="1.0" fill="none" />
<path d="M452.5,391.7 L459.8,391.7 L459.8,379 L462,379 M452.5,394 L459.8,394 L459.8,406.6 L462,406.6" stroke-width="0.9" fill="none" />
<line x1="480.70" y1="279.30" x2="480.70" y2="506.40" stroke-width="1.5" stroke-dasharray="12.4,4.2"/>
<path d="M470,280 L480.7,280 L480.7,285" stroke-width="1.5" fill="none" />
<path d="M470,506.4 L480.7,506.4 L480.7,500" stroke-width="1.5" fill="none" />
<path d="M462.10,280.00 L475.00,276.60 L475.00,283.40 Z" stroke-width="0.6" fill="#000" />
<path d="M462.10,506.40 L475.00,503.00 L475.00,509.80 Z" stroke-width="0.6" fill="#000" />
<line x1="126.70" y1="263.30" x2="157.50" y2="325.80" stroke-width="1.1" />
<line x1="181.70" y1="264.20" x2="166.30" y2="343.00" stroke-width="1.1" />
<line x1="197.50" y1="264.20" x2="177.50" y2="348.80" stroke-width="1.1" />
<line x1="220.30" y1="264.20" x2="196.80" y2="331.10" stroke-width="1.1" />
<line x1="117.50" y1="331.70" x2="152.30" y2="353.60" stroke-width="1.1" />
<line x1="118.75" y1="482.50" x2="164.20" y2="416.70" stroke-width="1.1" />
<line x1="342.50" y1="265.00" x2="319.70" y2="349.50" stroke-width="1.1" />
<line x1="420.00" y1="265.00" x2="384.00" y2="348.20" stroke-width="1.1" />
<line x1="458.00" y1="265.00" x2="440.00" y2="310.50" stroke-width="1.1" />
<line x1="527.90" y1="267.20" x2="603.00" y2="389.50" stroke-width="1.1" />
<circle cx="635.00" cy="393.20" r="113.00" stroke-width="1.1" fill="none" />
<circle cx="635.00" cy="393.20" r="93.30" stroke-width="1.1" fill="none" />
<circle cx="635.00" cy="290.20" r="3.60" stroke-width="1.1" fill="none" />
<circle cx="724.20" cy="341.70" r="3.60" stroke-width="1.1" fill="none" />
<circle cx="724.20" cy="444.70" r="3.60" stroke-width="1.1" fill="none" />
<circle cx="635.00" cy="496.20" r="3.60" stroke-width="1.1" fill="none" />
<circle cx="545.80" cy="444.70" r="3.60" stroke-width="1.1" fill="none" />
<circle cx="545.80" cy="341.70" r="3.60" stroke-width="1.1" fill="none" />
<path d="M607.65,310.40 L662.35,310.40 A87.2,87.2 0 0 1 716.50,362.19 L716.50,424.21 L716.5,433 L709.52,446.95 Q705.50,455.00 697.52,459.15 L671.39,472.74 Q668.00,474.50 664.19,474.26 L663.81,474.24 Q660.00,474.00 657.01,471.63 L642.25,459.90 Q635.20,454.30 628.15,459.90 L613.39,471.63 Q610.40,474.00 606.59,474.24 L606.21,474.26 Q602.40,474.50 599.02,472.74 L572.98,459.16 Q565.00,455.00 561.92,446.54 L557,433 L557.00,354.21 A87.2,87.2 0 0 1 607.65,310.40 Z" stroke-width="1.1" fill="none" />
<line x1="718.50" y1="365.19" x2="718.50" y2="421.21" stroke-width="0.9" />
<path d="M609.58,319.78 Q604.62,314.84 598.54,318.31 L573.06,332.84 Q568.72,335.31 566.82,339.94 L559.82,356.98 Q557.17,363.45 562.12,368.40 L581.82,388.02 Q586.78,392.96 592.86,389.49 L614.00,377.44 Q622.69,372.48 626.48,363.23 L631.58,350.82 Q634.24,344.34 629.28,339.40 Z" stroke-width="1.1" fill="none" />
<path d="M620.81,336.92 L628.45,340.65 L629.04,349.13 L621.99,353.88 L614.35,350.15 L613.76,341.67 Z" stroke-width="1" fill="none" />
<path d="M568.61,354.92 L576.25,358.65 L576.84,367.13 L569.79,371.88 L562.15,368.15 L561.56,359.67 Z" stroke-width="1" fill="none" />
<circle cx="595.70" cy="353.90" r="10.20" stroke-width="1" fill="none" stroke-dasharray="2.6,2"/>
<path d="M708.42,367.78 Q713.36,362.82 709.89,356.74 L695.36,331.26 Q692.88,326.91 688.26,325.02 L671.22,318.02 Q664.75,315.36 659.80,320.32 L640.18,340.02 Q635.24,344.97 638.71,351.06 L650.76,372.20 Q655.71,380.88 664.97,384.68 L677.38,389.78 Q683.85,392.44 688.80,387.48 Z" stroke-width="1.1" fill="none" />
<path d="M682.21,371.12 L689.85,374.85 L690.44,383.33 L683.39,388.08 L675.75,384.35 L675.16,375.87 Z" stroke-width="1" fill="none" />
<path d="M664.21,318.92 L671.85,322.65 L672.44,331.13 L665.39,335.88 L657.75,332.15 L657.16,323.67 Z" stroke-width="1" fill="none" />
<circle cx="674.30" cy="353.90" r="10.20" stroke-width="1" fill="none" stroke-dasharray="2.6,2"/>
<path d="M660.42,466.62 Q665.38,471.56 671.46,468.09 L696.94,453.56 Q701.28,451.08 703.18,446.46 L710.18,429.42 Q712.83,422.94 707.88,418.00 L688.18,398.38 Q683.22,393.44 677.14,396.91 L656.00,408.96 Q647.31,413.92 643.52,423.17 L638.42,435.58 Q635.76,442.06 640.72,447.00 Z" stroke-width="1.1" fill="none" />
<path d="M648.01,432.52 L655.65,436.25 L656.24,444.73 L649.19,449.48 L641.55,445.75 L640.96,437.27 Z" stroke-width="1" fill="none" />
<path d="M700.21,414.52 L707.85,418.25 L708.44,426.73 L701.39,431.48 L693.75,427.75 L693.16,419.27 Z" stroke-width="1" fill="none" />
<circle cx="674.30" cy="432.50" r="10.20" stroke-width="1" fill="none" stroke-dasharray="2.6,2"/>
<path d="M561.58,418.62 Q556.64,423.57 560.11,429.66 L574.64,455.14 Q577.12,459.49 581.74,461.38 L598.78,468.38 Q605.25,471.04 610.20,466.08 L629.82,446.38 Q634.76,441.43 631.29,435.34 L619.24,414.20 Q614.29,405.51 605.03,401.72 L592.62,396.62 Q586.15,393.96 581.20,398.92 Z" stroke-width="1.1" fill="none" />
<path d="M586.61,398.32 L594.25,402.05 L594.84,410.53 L587.79,415.28 L580.15,411.55 L579.56,403.07 Z" stroke-width="1" fill="none" />
<path d="M604.61,450.52 L612.25,454.25 L612.84,462.73 L605.79,467.48 L598.15,463.75 L597.56,455.27 Z" stroke-width="1" fill="none" />
<circle cx="595.70" cy="432.50" r="10.20" stroke-width="1" fill="none" stroke-dasharray="2.6,2"/>
<circle cx="635.00" cy="393.20" r="17.50" stroke-width="1.1" fill="none" />
<path d="M651.00,393.20 L643.00,407.06 L627.00,407.06 L619.00,393.20 L627.00,379.34 L643.00,379.34 Z" stroke-width="1.3" fill="none" />
<rect x="550.80" y="385.50" width="6.70" height="15.00" rx="0" stroke-width="1.1" fill="#fff" />
<path d="M558.3,386.8 L572,386.8 Q575.5,387 576,390.5 L596,390.5 M558.3,398.4 L572,398.4 Q575.5,398.2 576,395.5 L596,395.5" stroke-width="1.1" fill="none" stroke-dasharray="3,1.6"/>
<line x1="560.40" y1="387.50" x2="560.40" y2="397.70" stroke-width="1.0" stroke-dasharray="2.5,5"/>
<line x1="566.70" y1="387.50" x2="566.70" y2="397.70" stroke-width="1.0" stroke-dasharray="2.5,5"/>
<line x1="573.50" y1="387.50" x2="573.50" y2="397.70" stroke-width="1.0" stroke-dasharray="2.5,5"/>
<path d="M601.5,390.6 L604.6,390.6 Q607.8,390.8 607.8,393.3 Q607.8,395.8 604.6,396 L601.5,396 Z" stroke-width="1.6" fill="#fff" />
<text x="120.80" y="260.80" font-size="10.3" text-anchor="start" stroke="#000" stroke-width="0.3" fill="#000">2</text>
<text x="180.50" y="260.80" font-size="10.3" text-anchor="start" stroke="#000" stroke-width="0.3" fill="#000">7</text>
<text x="195.60" y="260.80" font-size="10.3" text-anchor="start" stroke="#000" stroke-width="0.3" fill="#000">1</text>
<text x="219.00" y="260.80" font-size="10.3" text-anchor="start" stroke="#000" stroke-width="0.3" fill="#000">4</text>
<text x="108.20" y="333.70" font-size="10.3" text-anchor="start" stroke="#000" stroke-width="0.3" fill="#000">9</text>
<text x="102.30" y="496.30" font-size="10.3" text-anchor="start" stroke="#000" stroke-width="0.3" fill="#000">8-9</text>
<text x="343.60" y="261.30" font-size="10.3" text-anchor="start" stroke="#000" stroke-width="0.3" fill="#000">3</text>
<text x="422.80" y="261.30" font-size="10.3" text-anchor="start" stroke="#000" stroke-width="0.3" fill="#000">6</text>
<text x="457.80" y="261.30" font-size="10.3" text-anchor="start" stroke="#000" stroke-width="0.3" fill="#000">5</text>
<text x="514.50" y="262.30" font-size="10.3" text-anchor="start" stroke="#000" stroke-width="0.3" fill="#000">10</text>
<text x="488.60" y="284.00" font-size="14.8" text-anchor="start" stroke="#000" stroke-width="0.3" fill="#000">A</text>
<text x="488.60" y="510.20" font-size="14.8" text-anchor="start" stroke="#000" stroke-width="0.3" fill="#000">A</text>
<text x="617.20" y="536.30" font-size="15.5" text-anchor="start" stroke="#000" stroke-width="0.3" fill="#000">A</text>
<text x="644.70" y="536.30" font-size="15.5" text-anchor="start" stroke="#000" stroke-width="0.3" fill="#000">A</text>
<rect x="632.90" y="531.40" width="7.90" height="1.30" rx="0" stroke-width="0" fill="#000" stroke="none"/>
<line x1="613.00" y1="539.30" x2="661.00" y2="539.30" stroke-width="1.5" /></svg>
</body></html>
